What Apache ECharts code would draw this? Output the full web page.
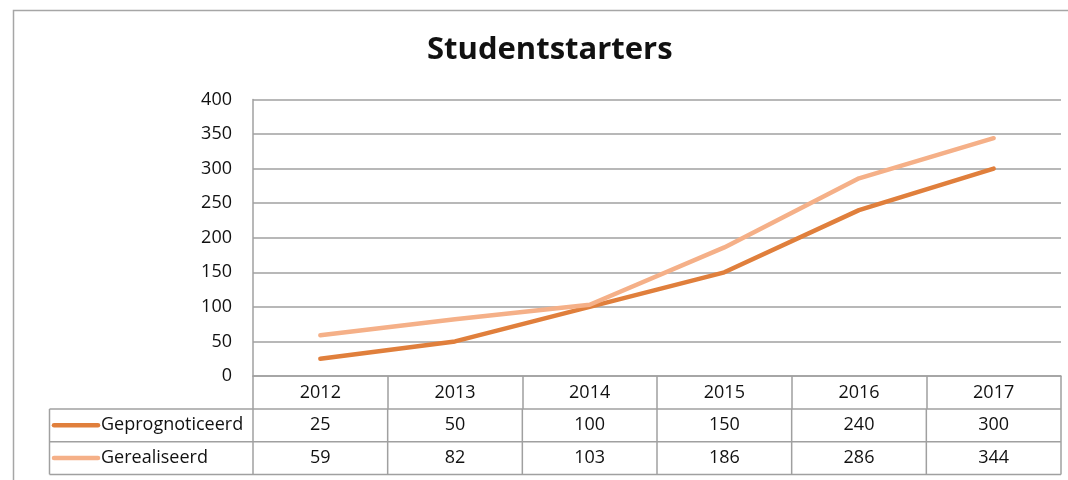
<!DOCTYPE html>
<html>
<head>
<meta charset="utf-8">
<script src="https://cdn.jsdelivr.net/npm/echarts@6/dist/echarts.min.js"></script>
<style>
  html, body { margin: 0; padding: 0; background: #fff; }
  #main { width: 1068px; height: 480px; }
</style>
</head>
<body>
<div id="main"></div>
<script>
// data
var years = ['2012', '2013', '2014', '2015', '2016', '2017'];
var seriesNames = ['Geprognoticeerd', 'Gerealiseerd'];
var geprognoticeerd = [25, 50, 100, 150, 240, 300];
var gerealiseerd = [59, 82, 103, 186, 286, 344];
var colors = ['#e07f3c', '#f5b088'];

var gray = '#a0a0a0';
var font = '"Open Sans", sans-serif';
var fs = 18;

var myChart = echarts.init(document.getElementById('main'));

var option = {
    animation: false,
    backgroundColor: '#fff',
    title: {
        text: 'Studentstarters',
        left: 422,
        top: 30,
        textStyle: { fontFamily: font, fontSize: 31, fontWeight: 'bold', color: '#111' }
    },
    grid: { left: 253, right: 7, top: 99.5, bottom: 104 },
    xAxis: {
        type: 'category',
        data: years,
        boundaryGap: true,
        axisLine: { show: true, lineStyle: { color: gray, width: 1.5 } },
        axisTick: { show: true, length: 33, interval: 0, lineStyle: { color: gray, width: 1.5 } },
        axisLabel: { margin: 16.5, verticalAlign: 'middle', fontFamily: font, fontSize: fs, color: '#111' },
        splitLine: { show: false }
    },
    yAxis: {
        type: 'value',
        min: 0,
        max: 400,
        interval: 50,
        axisLine: { show: true, lineStyle: { color: gray, width: 1.5 } },
        axisTick: { show: false },
        axisLabel: { margin: 21, fontFamily: font, fontSize: fs, color: '#111' },
        splitLine: { lineStyle: { color: gray, width: 1.5 } }
    },
    series: [
        {
            name: seriesNames[0],
            type: 'line',
            data: geprognoticeerd,
            symbol: 'none',
            lineStyle: { color: colors[0], width: 4.5, cap: 'round', join: 'round' }
        },
        {
            name: seriesNames[1],
            type: 'line',
            data: gerealiseerd,
            symbol: 'none',
            lineStyle: { color: colors[1], width: 4.5, cap: 'round', join: 'round' }
        }
    ]
};
myChart.setOption(option);

// data table under the plot
function buildTable() {
    var rows = [geprognoticeerd, gerealiseerd];
    var c0 = myChart.convertToPixel({ xAxisIndex: 0 }, years[0]);
    var c1 = myChart.convertToPixel({ xAxisIndex: 0 }, years[1]);
    var colW = c1 - c0;
    var x0 = c0 - colW / 2;
    var x1 = x0 + colW * years.length;
    var yAxisBottom = myChart.convertToPixel({ yAxisIndex: 0 }, 0);
    var headH = 33;
    var rowH = 32.7;
    var leftX = 49.5;
    var top = yAxisBottom + headH;
    var els = [];
    var ls = { stroke: gray, lineWidth: 1.5 };

    // horizontal lines
    for (var r = 0; r <= rows.length; r++) {
        var y = top + r * rowH;
        els.push({ type: 'line', shape: { x1: leftX, y1: y, x2: x1, y2: y }, style: ls });
    }
    // verticals
    els.push({ type: 'line', shape: { x1: leftX, y1: top, x2: leftX, y2: top + rowH * rows.length }, style: ls });
    for (var c = 0; c <= years.length; c++) {
        var x = x0 + c * colW;
        els.push({ type: 'line', shape: { x1: x, y1: top, x2: x, y2: top + rowH * rows.length }, style: ls });
    }
    // cells
    rows.forEach(function (row, ri) {
        var cy = top + ri * rowH + rowH / 2;
        els.push({ type: 'line', shape: { x1: 54, y1: cy, x2: 98, y2: cy },
            style: { stroke: colors[ri], lineWidth: 4.5, lineCap: 'round' } });
        els.push({ type: 'text', x: 101, y: cy,
            style: { text: seriesNames[ri], font: fs + 'px ' + font, fill: '#111', textAlign: 'left', textVerticalAlign: 'middle' } });
        row.forEach(function (v, ci) {
            els.push({ type: 'text', x: x0 + ci * colW + colW / 2, y: cy,
                style: { text: String(v), font: fs + 'px ' + font, fill: '#111', textAlign: 'center', textVerticalAlign: 'middle' } });
        });
    });
    // outer frame
    els.push({ type: 'rect', shape: { x: 13.5, y: 10.5, width: 1100, height: 500 },
        style: { fill: 'none', stroke: '#a6a6a6', lineWidth: 1.5 } });

    myChart.setOption({ graphic: els });
}
buildTable();
</script>
</body>
</html>
